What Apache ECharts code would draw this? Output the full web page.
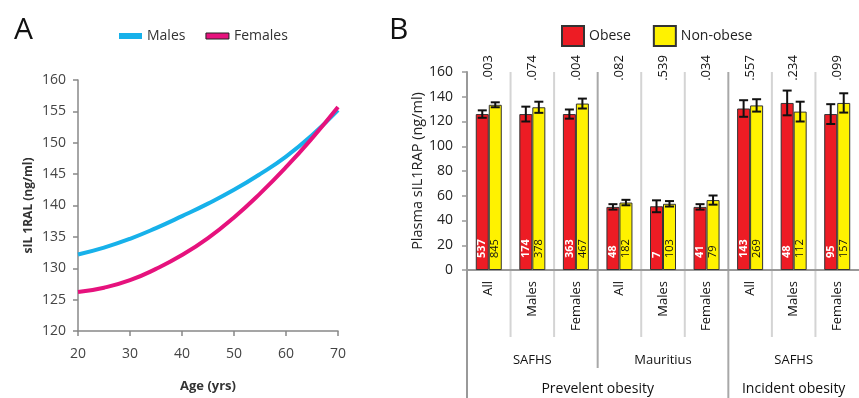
<!DOCTYPE html>
<html>
<head>
<meta charset="utf-8">
<script src="https://cdn.jsdelivr.net/npm/echarts@6/dist/echarts.min.js"></script>
<style>
  html, body { margin: 0; padding: 0; background: #fff; }
  #chart { width: 859px; height: 398px; }
</style>
</head>
<body>
<div id="chart"></div>
<script>
// panel A - fitted curves
const ages = [20, 25, 30, 35, 40, 45, 50, 55, 60, 65, 70]
const males = [132.2, 133.3, 134.7, 136.4, 138.3, 140.3, 142.5, 145.0, 147.8, 151.2, 155.2]
const females = [126.2, 126.9, 128.1, 129.9, 132.1, 134.8, 138.1, 141.9, 146.1, 150.7, 155.7]

// panel B - plasma sIL1RAP by group
const groups = ['All', 'Males', 'Females', 'All', 'Males', 'Females', 'All', 'Males', 'Females']
const pValues = ['.003', '.074', '.004', '.082', '.539', '.034', '.557', '.234', '.099']
const obese = [126, 126, 126, 51, 51.5, 51, 130.5, 135, 126]
const obeseErr = [3, 6, 3.7, 2.2, 4.8, 2.2, 6.7, 10, 8]
const nonObese = [133.5, 131.5, 134.5, 54.5, 53.5, 56.5, 133, 128, 135]
const nonObeseErr = [2, 4.5, 4, 2.2, 2.2, 3.7, 5, 8, 7.8]
const obeseN = ['537', '174', '363', '48', '7', '41', '143', '48', '95']
const nonObeseN = ['845', '378', '467', '182', '103', '79', '269', '112', '157']
const cohorts = ['SAFHS', 'Mauritius', 'SAFHS']
const cohortSpans = [3, 3, 3]
const outcomes = ['Prevelent obesity', 'Incident obesity']
const outcomeSpans = [6, 3]

const FONT = 'Open Sans'
const BAR_W = 13
const RED = '#ED1C24'
const YELLOW = '#FFF200'

function errorBars(offset) {
  return function (params, api) {
    const x = api.value(0)
    const lo = api.coord([x, api.value(1)])
    const hi = api.coord([x, api.value(2)])
    const cx = lo[0] + offset
    const cap = 4.5
    const style = { stroke: '#111', lineWidth: 2 }
    return {
      type: 'group',
      children: [
        { type: 'line', shape: { x1: cx, y1: hi[1], x2: cx, y2: lo[1] }, style },
        { type: 'line', shape: { x1: cx - cap, y1: hi[1], x2: cx + cap, y2: hi[1] }, style },
        { type: 'line', shape: { x1: cx - cap, y1: lo[1], x2: cx + cap, y2: lo[1] }, style }
      ]
    }
  }
}

const chart = echarts.init(document.getElementById('chart'))

const option = {
  animation: false,
  textStyle: { fontFamily: FONT },
  title: [
    { text: 'A', left: 9, top: 10, textStyle: { fontSize: 30, fontWeight: 'normal', color: '#111', fontFamily: FONT } },
    { text: 'B', left: 384, top: 10, textStyle: { fontSize: 30, fontWeight: 'normal', color: '#111', fontFamily: FONT } }
  ],
  legend: [
    {
      left: 114, top: 24, itemWidth: 23, itemHeight: 6, itemGap: 20,
      textStyle: { fontSize: 14, color: '#333' },
      data: [
        { name: 'Males', icon: 'rect' },
        { name: 'Females', icon: 'rect', itemStyle: { borderColor: '#222', borderWidth: 1 } }
      ]
    },
    {
      left: 556, top: 20, itemWidth: 22, itemHeight: 20, itemGap: 22,
      textStyle: { fontSize: 14, color: '#222' },
      data: [
        { name: 'Obese', icon: 'rect' },
        { name: 'Non-obese', icon: 'rect' }
      ]
    }
  ],
  grid: [
    { left: 78, top: 80, width: 260, height: 260.7 },
    { left: 467, top: 72, width: 397, height: 198 }
  ],
  xAxis: [
    {
      gridIndex: 0, type: 'value', min: 20, max: 70, interval: 10,
      name: 'Age (yrs)', nameLocation: 'middle', nameGap: 49,
      nameTextStyle: { fontSize: 13, fontWeight: 'bold', color: '#333' },
      axisLine: { lineStyle: { color: '#888', width: 1.5 } },
      axisTick: { length: 5, lineStyle: { color: '#888', width: 1.5 } },
      axisLabel: { fontSize: 14, color: '#444', margin: 16 },
      splitLine: { show: false }
    },
    {
      gridIndex: 1, type: 'category', data: groups,
      axisLine: { lineStyle: { color: '#999', width: 2 } },
      axisTick: { show: false },
      axisLabel: { interval: 0, rotate: 90, fontSize: 13, color: '#111', margin: 11 },
      splitLine: { show: false }
    }
  ],
  yAxis: [
    {
      gridIndex: 0, type: 'value', min: 120, max: 160, interval: 5,
      name: 'sIL 1RAL (ng/ml)', nameLocation: 'middle', nameGap: 43,
      nameTextStyle: { fontSize: 12, fontWeight: 'bold', color: '#333' },
      axisLine: { show: true, lineStyle: { color: '#888', width: 1.5 } },
      axisTick: { show: true, length: 5, lineStyle: { color: '#888', width: 1.5 } },
      axisLabel: { fontSize: 14, color: '#444', margin: 12 },
      splitLine: { show: false }
    },
    {
      gridIndex: 1, type: 'value', min: 0, max: 160, interval: 20,
      name: 'Plasma sIL1RAP (ng/ml)', nameLocation: 'middle', nameGap: 40,
      nameTextStyle: { fontSize: 14.5, color: '#222' },
      axisLine: { show: true, lineStyle: { color: '#999', width: 2 } },
      axisTick: { show: true, length: 5, lineStyle: { color: '#999', width: 1.5 } },
      axisLabel: { fontSize: 14, color: '#222', margin: 14 },
      splitLine: { show: false }
    }
  ],
  series: [
    {
      name: 'Males', type: 'line', xAxisIndex: 0, yAxisIndex: 0, smooth: true, showSymbol: false,
      color: '#17B1EA', lineStyle: { width: 4 },
      data: ages.map((a, i) => [a, males[i]])
    },
    {
      name: 'Females', type: 'line', xAxisIndex: 0, yAxisIndex: 0, smooth: true, showSymbol: false,
      color: '#E6127D', lineStyle: { width: 4 },
      data: ages.map((a, i) => [a, females[i]])
    },
    {
      name: 'Obese', type: 'bar', xAxisIndex: 1, yAxisIndex: 1, barWidth: BAR_W, barGap: '0%',
      itemStyle: { color: RED, borderColor: '#333', borderWidth: 1 },
      label: {
        show: true, position: 'insideBottom', rotate: 90, align: 'left', verticalAlign: 'middle',
        distance: 12, color: '#fff', fontSize: 11, fontWeight: 'bold',
        formatter: p => obeseN[p.dataIndex]
      },
      data: obese
    },
    {
      name: 'Non-obese', type: 'bar', xAxisIndex: 1, yAxisIndex: 1, barWidth: BAR_W, barGap: '0%',
      itemStyle: { color: YELLOW, borderColor: '#333', borderWidth: 1 },
      label: {
        show: true, position: 'insideBottom', rotate: 90, align: 'left', verticalAlign: 'middle',
        distance: 12, color: '#111', fontSize: 11,
        formatter: p => nonObeseN[p.dataIndex]
      },
      data: nonObese
    },
    {
      type: 'custom', xAxisIndex: 1, yAxisIndex: 1, renderItem: errorBars(-BAR_W / 2),
      encode: { x: 0, y: [1, 2] }, z: 5,
      data: obese.map((m, i) => [i, m - obeseErr[i], m + obeseErr[i]])
    },
    {
      type: 'custom', xAxisIndex: 1, yAxisIndex: 1, renderItem: errorBars(BAR_W / 2),
      encode: { x: 0, y: [1, 2] }, z: 5,
      data: nonObese.map((m, i) => [i, m - nonObeseErr[i], m + nonObeseErr[i]])
    }
  ]
}

chart.setOption(option)

// dividers, p-values and grouped labels for panel B, placed from the category axis
const catX = i => chart.convertToPixel({ xAxisIndex: 1 }, i)
const half = (catX(1) - catX(0)) / 2
const yTop = chart.convertToPixel({ yAxisIndex: 1 }, 160)
const yBase = chart.convertToPixel({ yAxisIndex: 1 }, 0)
const graphics = []

const majorEdges = [0]
let acc = 0
outcomeSpans.forEach(s => { acc += s; majorEdges.push(acc) })
const cohortEdges = [0]
acc = 0
cohortSpans.forEach(s => { acc += s; cohortEdges.push(acc) })

for (let b = 1; b < groups.length; b++) {
  const x = catX(b) - half
  const isOutcome = majorEdges.includes(b)
  const isCohort = cohortEdges.includes(b)
  const bottom = isOutcome ? 398 : (isCohort ? 368 : 337)
  const color = isCohort ? '#a8a8a8' : '#d4d4d4'
  graphics.push({
    type: 'line', silent: true, z: -1,
    shape: { x1: x, y1: yTop, x2: x, y2: bottom },
    style: { stroke: color, lineWidth: 2 }
  })
}
graphics.push({
  type: 'line', silent: true,
  shape: { x1: catX(0) - half, y1: yBase, x2: catX(0) - half, y2: 398 },
  style: { stroke: '#999', lineWidth: 2 }
})

pValues.forEach((p, i) => {
  graphics.push({
    type: 'text', silent: true,
    x: catX(i), y: yTop - 4, rotation: Math.PI / 2,
    style: { text: p, fontSize: 13, fontFamily: FONT, fill: '#111', align: 'center', verticalAlign: 'middle' }
  })
})

let start = 0
cohorts.forEach((name, k) => {
  const end = start + cohortSpans[k] - 1
  graphics.push({
    type: 'text', silent: true,
    x: (catX(start) + catX(end)) / 2, y: 360,
    style: { text: name, fontSize: 13, fontFamily: FONT, fill: '#111', align: 'center', verticalAlign: 'middle' }
  })
  start += cohortSpans[k]
})
start = 0
outcomes.forEach((name, k) => {
  const end = start + outcomeSpans[k] - 1
  graphics.push({
    type: 'text', silent: true,
    x: (catX(start) + catX(end)) / 2, y: 389,
    style: { text: name, fontSize: 14, fontFamily: FONT, fill: '#111', align: 'center', verticalAlign: 'middle' }
  })
  start += outcomeSpans[k]
})

chart.setOption({ graphic: graphics })
</script>
</body>
</html>
